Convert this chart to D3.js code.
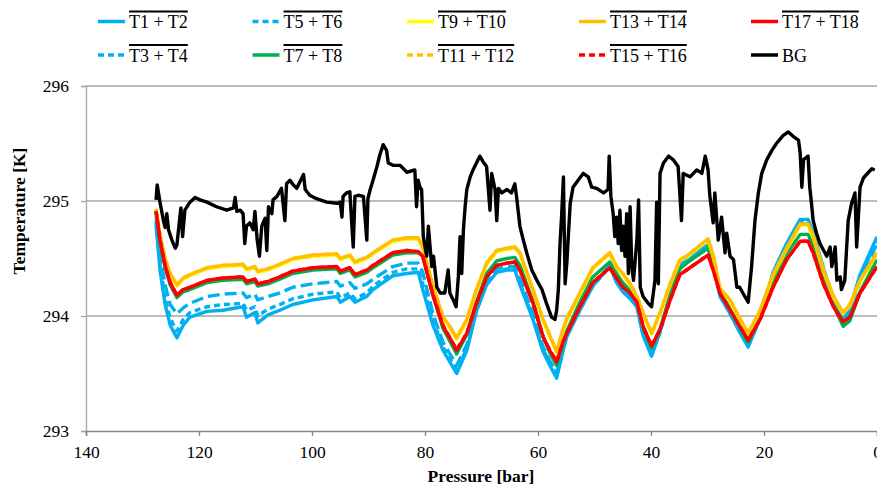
<!DOCTYPE html>
<html>
<head>
<meta charset="utf-8">
<script src="https://cdn.jsdelivr.net/npm/d3@7"></script>
<style>
  html, body { margin: 0; padding: 0; background: #fff; }
  svg { display: block; }
  svg text { font-family: 'Liberation Serif', 'Times New Roman', 'DejaVu Serif', serif !important; }
</style>
</head>
<body>
<svg id="chart" width="877" height="487"></svg>
<script>
// ---- data -------------------------------------------------------------
const xTicks = [140, 120, 100, 80, 60, 40, 20, 0];
const yTicks = [293, 294, 295, 296];

// pressure samples shared by the paired-thermocouple averages (bar)
const pressure = [127.6, 126.9, 126.0, 125.1, 123.9, 122.8, 121.6, 118.6, 115.8, 112.2,
  111.6, 110.1, 109.6, 107.8, 105.7, 103.4, 99.8, 95.6, 95.0, 93.3,
  92.4, 90.3, 89.2, 85.7, 83.2, 81.2, 80.4, 78.6, 76.8, 75.6,
  74.4, 72.6, 70.9, 69.1, 67.3, 65.5, 64.1, 63.2, 60.9, 59.1,
  57.9, 56.7, 55.6, 54.9, 52.6, 50.3, 47.3, 46.1, 45.0, 43.7,
  42.5, 41.4, 39.9, 38.4, 36.6, 34.9, 33.7, 29.9, 29.0, 27.8,
  26.0, 24.3, 22.8, 20.7, 18.4, 16.0, 13.6, 12.2, 11.3, 9.5,
  7.7, 6.0, 4.8, 3.0, 0.0];

const t1t2 = [294.79, 294.40, 294.10, 293.92, 293.81, 293.92, 293.99, 294.04, 294.05, 294.08,
  293.99, 294.03, 293.94, 294.01, 294.05, 294.10, 294.14, 294.17, 294.12, 294.17,
  294.12, 294.17, 294.23, 294.35, 294.37, 294.38, 294.23, 293.92, 293.70, 293.60,
  293.50, 293.70, 294.04, 294.27, 294.38, 294.40, 294.40, 294.27, 293.97, 293.69,
  293.57, 293.46, 293.69, 293.82, 294.05, 294.26, 294.44, 294.29, 294.21, 294.15,
  294.08, 293.83, 293.65, 293.86, 294.19, 294.44, 294.50, 294.62, 294.44, 294.17,
  294.02, 293.86, 293.73, 293.98, 294.38, 294.63, 294.84, 294.84, 294.73, 294.42,
  294.15, 293.97, 294.06, 294.36, 294.69];

const t3t4 = [294.82, 294.45, 294.16, 293.98, 293.87, 293.97, 294.03, 294.08, 294.10, 294.11,
  294.05, 294.08, 294.00, 294.06, 294.10, 294.15, 294.19, 294.21, 294.16, 294.20,
  294.15, 294.20, 294.26, 294.38, 294.41, 294.41, 294.28, 293.96, 293.73, 293.63,
  293.53, 293.72, 294.05, 294.28, 294.39, 294.41, 294.41, 294.29, 293.99, 293.71,
  293.59, 293.48, 293.70, 293.83, 294.05, 294.26, 294.43, 294.30, 294.22, 294.16,
  294.09, 293.84, 293.66, 293.86, 294.18, 294.43, 294.49, 294.61, 294.44, 294.18,
  294.02, 293.87, 293.74, 293.98, 294.37, 294.62, 294.82, 294.82, 294.72, 294.40,
  294.14, 293.96, 294.05, 294.34, 294.66];

const t5t6 = [294.86, 294.52, 294.27, 294.10, 294.02, 294.07, 294.11, 294.17, 294.19, 294.20,
  294.16, 294.19, 294.14, 294.17, 294.20, 294.25, 294.28, 294.30, 294.26, 294.29,
  294.24, 294.28, 294.32, 294.43, 294.46, 294.46, 294.38, 294.02, 293.77, 293.67,
  293.57, 293.75, 294.07, 294.30, 294.41, 294.43, 294.43, 294.32, 294.02, 293.73,
  293.61, 293.51, 293.72, 293.84, 294.06, 294.27, 294.43, 294.31, 294.23, 294.17,
  294.10, 293.86, 293.68, 293.87, 294.18, 294.42, 294.48, 294.60, 294.44, 294.19,
  294.03, 293.88, 293.75, 293.98, 294.35, 294.60, 294.80, 294.80, 294.70, 294.38,
  294.13, 293.96, 294.03, 294.31, 294.63];

const t7t8 = [294.90, 294.64, 294.42, 294.27, 294.16, 294.21, 294.23, 294.29, 294.31, 294.32,
  294.28, 294.30, 294.26, 294.28, 294.32, 294.37, 294.40, 294.41, 294.37, 294.40,
  294.34, 294.38, 294.42, 294.53, 294.55, 294.55, 294.52, 294.18, 293.89, 293.78,
  293.67, 293.84, 294.12, 294.37, 294.48, 294.50, 294.51, 294.44, 294.13, 293.82,
  293.68, 293.57, 293.77, 293.87, 294.12, 294.34, 294.47, 294.37, 294.29, 294.22,
  294.13, 293.90, 293.72, 293.89, 294.18, 294.41, 294.46, 294.59, 294.45, 294.22,
  294.06, 293.91, 293.77, 293.98, 294.29, 294.54, 294.71, 294.71, 294.61, 294.32,
  294.09, 293.91, 293.96, 294.21, 294.49];

const t9t10 = [294.92, 294.69, 294.49, 294.36, 294.26, 294.32, 294.35, 294.41, 294.43, 294.44,
  294.40, 294.42, 294.38, 294.40, 294.44, 294.49, 294.52, 294.53, 294.49, 294.52,
  294.46, 294.50, 294.54, 294.65, 294.67, 294.67, 294.59, 294.25, 293.98, 293.90,
  293.80, 293.96, 294.22, 294.45, 294.56, 294.58, 294.59, 294.54, 294.22, 293.96,
  293.82, 293.68, 293.87, 293.97, 294.19, 294.41, 294.54, 294.42, 294.36, 294.27,
  294.16, 294.02, 293.84, 294.02, 294.27, 294.48, 294.51, 294.66, 294.52, 294.23,
  294.13, 293.97, 293.84, 294.04, 294.35, 294.58, 294.79, 294.79, 294.69, 294.39,
  294.16, 294.02, 294.09, 294.30, 294.54];

const t11t12 = [294.93, 294.70, 294.50, 294.36, 294.27, 294.33, 294.36, 294.42, 294.44, 294.45,
  294.41, 294.43, 294.39, 294.41, 294.45, 294.50, 294.53, 294.54, 294.50, 294.53,
  294.47, 294.51, 294.55, 294.66, 294.68, 294.68, 294.60, 294.26, 293.99, 293.91,
  293.81, 293.97, 294.23, 294.46, 294.57, 294.59, 294.60, 294.55, 294.23, 293.97,
  293.83, 293.69, 293.88, 293.98, 294.20, 294.42, 294.55, 294.43, 294.37, 294.28,
  294.17, 294.03, 293.85, 294.03, 294.28, 294.49, 294.52, 294.67, 294.53, 294.24,
  294.14, 293.98, 293.85, 294.05, 294.36, 294.59, 294.80, 294.80, 294.70, 294.40,
  294.17, 294.03, 294.10, 294.31, 294.55];

const t13t14 = [294.93, 294.70, 294.50, 294.37, 294.27, 294.33, 294.36, 294.42, 294.44, 294.45,
  294.41, 294.43, 294.39, 294.41, 294.45, 294.50, 294.53, 294.54, 294.50, 294.53,
  294.47, 294.51, 294.55, 294.66, 294.68, 294.68, 294.60, 294.26, 293.99, 293.91,
  293.81, 293.97, 294.23, 294.46, 294.57, 294.59, 294.60, 294.55, 294.23, 293.97,
  293.83, 293.69, 293.88, 293.98, 294.20, 294.42, 294.55, 294.43, 294.37, 294.28,
  294.17, 294.03, 293.85, 294.03, 294.28, 294.49, 294.52, 294.67, 294.53, 294.24,
  294.14, 293.98, 293.85, 294.05, 294.36, 294.59, 294.80, 294.80, 294.70, 294.40,
  294.17, 294.03, 294.10, 294.31, 294.55];

const t15t16 = [294.91, 294.66, 294.44, 294.29, 294.18, 294.23, 294.25, 294.31, 294.33, 294.34,
  294.30, 294.32, 294.28, 294.30, 294.34, 294.39, 294.42, 294.43, 294.39, 294.42,
  294.36, 294.40, 294.44, 294.55, 294.57, 294.56, 294.52, 294.19, 293.92, 293.81,
  293.71, 293.85, 294.11, 294.34, 294.44, 294.46, 294.47, 294.40, 294.12, 293.82,
  293.70, 293.61, 293.77, 293.85, 294.08, 294.29, 294.42, 294.33, 294.25, 294.20,
  294.12, 293.91, 293.74, 293.88, 294.14, 294.36, 294.40, 294.53, 294.40, 294.20,
  294.05, 293.91, 293.79, 293.97, 294.25, 294.49, 294.65, 294.65, 294.55, 294.28,
  294.08, 293.95, 293.99, 294.20, 294.43];

const t17t18 = [294.91, 294.66, 294.44, 294.29, 294.18, 294.23, 294.25, 294.31, 294.33, 294.34,
  294.30, 294.32, 294.28, 294.30, 294.34, 294.39, 294.42, 294.43, 294.39, 294.42,
  294.36, 294.40, 294.44, 294.55, 294.57, 294.56, 294.52, 294.18, 293.91, 293.81,
  293.70, 293.85, 294.11, 294.34, 294.44, 294.46, 294.47, 294.40, 294.11, 293.82,
  293.70, 293.60, 293.77, 293.85, 294.08, 294.29, 294.42, 294.33, 294.25, 294.20,
  294.12, 293.91, 293.74, 293.88, 294.14, 294.36, 294.40, 294.53, 294.40, 294.20,
  294.05, 293.91, 293.79, 293.97, 294.25, 294.49, 294.65, 294.65, 294.55, 294.28,
  294.08, 293.95, 293.99, 294.20, 294.43];

// background (gas) temperature, sampled more densely
const bgPressure = [127.6, 127.4, 126.9, 126.3, 126.0, 125.7, 125.4, 124.8, 124.2, 123.9,
  123.5, 123.2, 122.9, 122.5, 121.6, 120.7, 119.8, 118.6, 116.9, 115.1,
  113.9, 113.6, 113.3, 112.7, 112.2, 111.9, 111.6, 111.0, 110.4, 110.1,
  109.7, 109.3, 108.9, 108.3, 108.0, 107.7, 107.1, 106.9, 106.2, 105.4,
  104.8, 104.5, 103.9, 103.3, 102.7, 101.5, 101.2, 100.4, 99.2, 97.4,
  95.6, 95.0, 94.7, 94.5, 93.9, 93.3, 92.9, 92.7, 92.4, 91.8,
  90.9, 90.3, 90.1, 89.7, 89.2, 88.5, 88.0, 87.4, 86.8, 86.5,
  85.6, 84.4, 83.2, 81.8, 81.5, 81.2, 80.9, 80.6, 80.3, 79.7,
  79.4, 79.1, 78.8, 78.5, 77.9, 77.3, 76.5, 75.9, 75.6, 75.0,
  74.5, 74.1, 73.8, 73.5, 73.2, 72.9, 72.6, 72.0, 71.5, 70.9,
  70.3, 69.7, 69.1, 68.5, 68.2, 67.6, 67.3, 67.0, 66.4, 65.5,
  64.7, 64.1, 63.8, 63.2, 62.6, 62.0, 61.1, 60.2, 59.3, 58.5,
  57.6, 57.0, 56.7, 56.4, 56.1, 55.8, 55.5, 55.2, 54.9, 54.3,
  53.8, 52.9, 52.0, 51.1, 50.5, 49.6, 48.4, 47.6, 47.4, 47.1,
  46.7, 46.4, 46.1, 45.8, 45.5, 45.2, 44.9, 44.6, 44.3, 44.0,
  43.7, 43.4, 43.1, 42.5, 42.2, 41.9, 41.4, 40.5, 39.9, 39.3,
  39.0, 38.7, 38.4, 37.8, 36.9, 36.1, 35.2, 34.6, 34.3, 33.1,
  31.9, 31.0, 30.4, 29.9, 29.6, 29.0, 28.7, 28.1, 27.5, 26.9,
  26.6, 26.0, 25.4, 24.8, 24.3, 23.4, 22.8, 22.2, 21.6, 21.0,
  20.4, 19.5, 18.6, 17.8, 16.6, 15.7, 14.8, 13.9, 13.6, 13.3,
  13.0, 12.2, 11.9, 11.6, 11.3, 10.7, 10.1, 8.9, 8.3, 8.0,
  7.4, 7.1, 6.5, 6.3, 5.7, 5.1, 4.5, 3.9, 3.6, 3.0,
  2.4, 1.5, 0.9, 0.4];

const bgTemp = [295.01, 295.14, 294.99, 294.83, 294.77, 294.89, 294.75, 294.66, 294.59, 294.62,
  294.81, 294.94, 294.69, 294.92, 294.99, 295.03, 295.01, 294.99, 294.95, 294.92,
  294.94, 295.03, 294.91, 294.92, 294.89, 294.63, 294.78, 294.81, 294.75, 294.91,
  294.66, 294.52, 294.78, 294.85, 294.57, 294.95, 294.89, 295.01, 295.04, 295.11,
  294.83, 295.15, 295.18, 295.14, 295.11, 295.23, 295.10, 295.05, 295.02, 294.99,
  294.98, 294.99, 294.86, 295.04, 295.07, 295.08, 294.75, 294.60, 295.04, 295.05,
  295.04, 294.66, 295.02, 295.10, 295.18, 295.30, 295.40, 295.49, 295.44, 295.33,
  295.31, 295.31, 295.25, 295.27, 294.95, 295.18, 295.12, 295.10, 294.69, 294.52,
  294.78, 294.60, 294.43, 294.52, 294.25, 294.20, 294.20, 294.40, 294.20, 294.14,
  294.08, 294.34, 294.69, 294.37, 294.75, 294.95, 295.10, 295.21, 295.27, 295.33,
  295.39, 295.34, 295.30, 294.92, 295.24, 295.10, 294.83, 295.11, 295.07, 295.10,
  295.07, 295.15, 295.04, 294.78, 294.66, 294.55, 294.40, 294.31, 294.23, 294.11,
  293.99, 293.97, 294.05, 294.23, 294.63, 294.89, 295.21, 294.28, 294.46, 294.98,
  295.12, 295.18, 295.24, 295.21, 295.12, 295.11, 295.07, 295.10, 295.39, 295.04,
  294.89, 294.69, 294.86, 294.63, 294.92, 294.57, 294.78, 294.52, 294.89, 294.37,
  294.95, 294.43, 294.31, 294.66, 295.01, 294.25, 294.17, 294.11, 294.08, 294.31,
  294.99, 294.28, 295.24, 295.33, 295.39, 295.36, 295.30, 294.83, 295.24, 295.21,
  295.27, 295.24, 295.39, 295.27, 295.05, 294.81, 295.07, 294.66, 294.86, 294.55,
  294.72, 294.52, 294.49, 294.25, 294.25, 294.17, 294.12, 294.43, 294.83, 295.07,
  295.24, 295.36, 295.44, 295.50, 295.57, 295.60, 295.56, 295.53, 295.42, 295.12,
  295.36, 295.39, 295.12, 294.98, 294.83, 294.72, 294.63, 294.52, 294.60, 294.43,
  294.60, 294.31, 294.34, 294.23, 294.31, 294.83, 294.98, 295.07, 294.60, 295.12,
  295.20, 295.25, 295.28, 295.27];

const seriesNames = ["T1 + T2", "T3 + T4", "T5 + T6", "T7 + T8", "T9 + T10",
  "T11 + T12", "T13 + T14", "T15 + T16", "T17 + T18", "BG"];
const seriesValues = [t1t2, t3t4, t5t6, t7t8, t9t10, t11t12, t13t14, t15t16, t17t18, bgTemp];

// ---- styling ----------------------------------------------------------
const seriesColors = ["#00B0F0", "#00B0F0", "#00B0F0", "#00B050", "#FFFF00",
  "#FFC000", "#FFC000", "#FF0000", "#FF0000", "#000000"];
const seriesDash = [null, "6,4", "12,5", null, null, "6,4", null, "6,4", null, null];
const legendCols = [98, 252.5, 407, 579, 751];
const legendRows = [21.5, 55];

// ---- chart ------------------------------------------------------------
const svg = d3.select("#chart");
const plotLeft = 86, plotRight = 877, plotTop = 86, plotBottom = 431;
const x = d3.scaleLinear().domain([140, 0]).range([plotLeft, plotRight]);
const y = d3.scaleLinear().domain([293, 296]).range([plotBottom, plotTop]);
const fontSize = "17.5px";
const serif = "'Liberation Serif', 'Times New Roman', 'DejaVu Serif', serif";

// horizontal gridlines
svg.append("g")
  .selectAll("line")
  .data(yTicks.filter(d => d !== 293))
  .join("line")
  .attr("x1", plotLeft).attr("x2", plotRight)
  .attr("y1", d => y(d)).attr("y2", d => y(d))
  .attr("stroke", "#a6a6a6").attr("stroke-width", 1.3);

// y axis
const yAxis = svg.append("g")
  .attr("transform", `translate(${plotLeft},0)`)
  .call(d3.axisLeft(y).tickValues(yTicks).tickSize(5).tickPadding(12).tickFormat(d3.format("d")));
yAxis.attr("font-family", null);
yAxis.select(".domain").attr("stroke", "#a6a6a6").attr("stroke-width", 1.3);
yAxis.selectAll(".tick line").attr("stroke", "#a6a6a6").attr("stroke-width", 1.3);
yAxis.selectAll(".tick text")
  .style("font-family", serif).style("font-size", fontSize).attr("fill", "#000");

// x axis
const xAxis = svg.append("g")
  .attr("transform", `translate(0,${plotBottom})`)
  .call(d3.axisBottom(x).tickValues(xTicks).tickSize(5).tickPadding(10).tickFormat(d3.format("d")));
xAxis.attr("font-family", null);
xAxis.select(".domain").attr("stroke", "#868686").attr("stroke-width", 1.6);
xAxis.selectAll(".tick line").attr("stroke", "#868686").attr("stroke-width", 1.3);
xAxis.selectAll(".tick text")
  .style("font-family", serif).style("font-size", fontSize).attr("fill", "#000");

// axis titles
svg.append("text")
  .attr("x", 481).attr("y", 482)
  .attr("text-anchor", "middle")
  .style("font-family", serif).style("font-size", fontSize).style("font-weight", "bold")
  .text("Pressure [bar]");
svg.append("text")
  .attr("transform", "translate(25,211) rotate(-90)")
  .attr("text-anchor", "middle")
  .style("font-family", serif).style("font-size", fontSize).style("font-weight", "bold")
  .text("Temperature [K]");

// series lines
const line = d3.line()
  .x(d => x(d[0]))
  .y(d => y(d[1]));

const plot = svg.append("g");
seriesValues.forEach((vals, i) => {
  const px = i === 9 ? bgPressure : pressure;
  const pts = vals.map((v, k) => [px[k], v]);
  plot.append("path")
    .datum(pts)
    .attr("fill", "none")
    .attr("stroke", seriesColors[i])
    .attr("stroke-width", 3.4)
    .attr("stroke-linejoin", "round")
    .attr("stroke-dasharray", seriesDash[i])
    .attr("d", line);
});

// legend (column-major, two rows)
const legend = svg.append("g");
seriesNames.forEach((name, i) => {
  const cx = legendCols[Math.floor(i / 2)];
  const cy = legendRows[i % 2];
  const g = legend.append("g");
  g.append("line")
    .attr("x1", cx).attr("x2", cx + 27)
    .attr("y1", cy).attr("y2", cy)
    .attr("stroke", seriesColors[i])
    .attr("stroke-width", 3.5)
    .attr("stroke-dasharray", seriesDash[i] ? "6,4" : null);
  const t = g.append("text")
    .attr("x", cx + 31).attr("y", cy + 6.5)
    .style("font-family", serif).style("font-size", "18px")
    .attr("fill", "#000")
    .text(name);
  if (name !== "BG") {
    const w = t.node().getComputedTextLength();
    g.append("line")
      .attr("x1", cx + 31).attr("x2", cx + 31 + w)
      .attr("y1", cy - 10).attr("y2", cy - 10)
      .attr("stroke", "#000").attr("stroke-width", 1.8);
  }
});
</script>
</body>
</html>
